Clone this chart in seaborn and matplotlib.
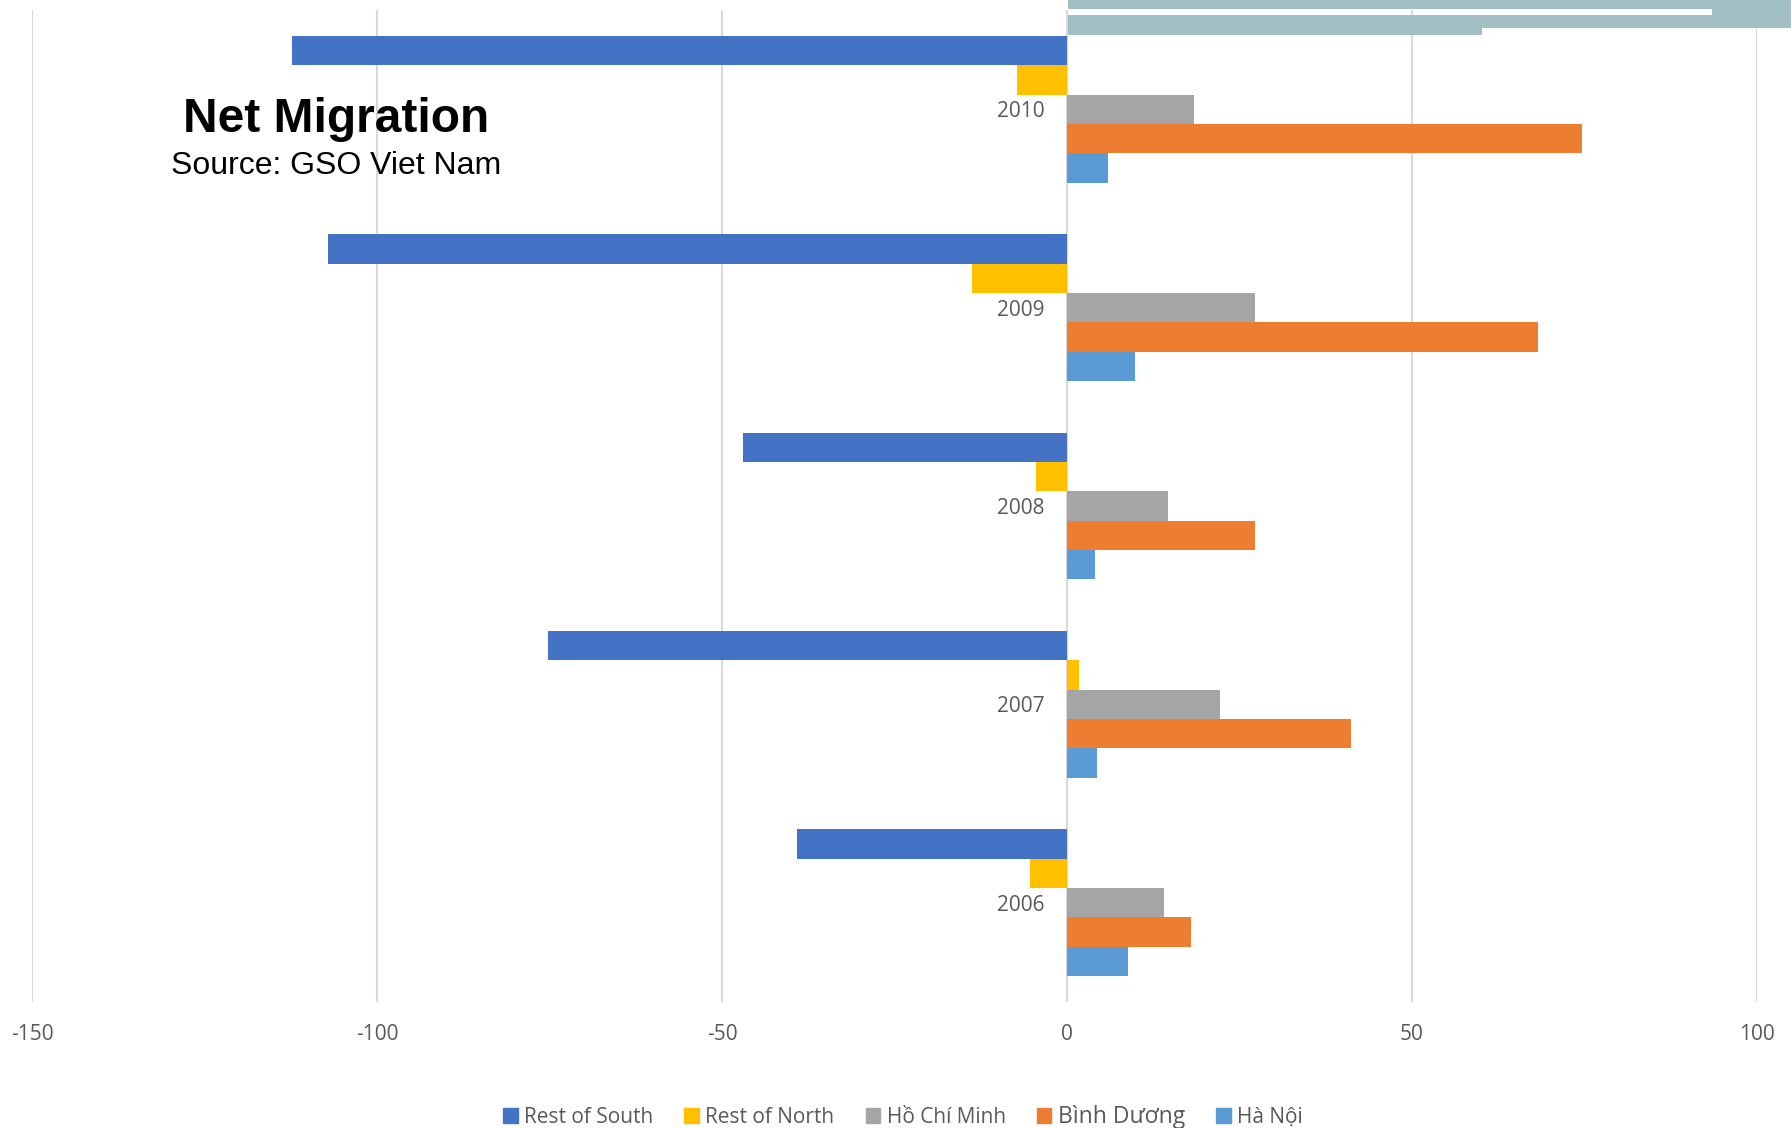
import matplotlib
matplotlib.use("Agg")
import matplotlib.pyplot as plt
import matplotlib.patches as mpatches
import seaborn as sns
import pandas as pd

years = ["2010", "2009", "2008", "2007", "2006"]
series = ["Rest of South", "Rest of North", "Hồ Chí Minh", "Bình Dương", "Hà Nội"]
rest_of_south = [-112.3, -107.1, -46.9, -75.2, -39.2]
rest_of_north = [-7.3, -13.7, -4.5, 1.7, -5.3]
ho_chi_minh = [18.4, 27.2, 14.6, 22.2, 14.1]
binh_duong = [74.7, 68.2, 27.2, 41.2, 18.0]
ha_noi = [6.0, 9.9, 4.0, 4.3, 8.8]
colors = ["#4472C4", "#FFC000", "#A5A5A5", "#ED7D31", "#5B9BD5"]
x_ticks = [-150, -100, -50, 0, 50, 100]

rows = []
for name, vals in zip(series, [rest_of_south, rest_of_north, ho_chi_minh, binh_duong, ha_noi]):
    for y, v in zip(years, vals):
        rows.append({"year": y, "series": name, "value": v})
df = pd.DataFrame(rows)

sns.set_style("white")
plt.rcParams["font.family"] = ["Open Sans", "DejaVu Sans"]

W, H = 1791, 1128
fig = plt.figure(figsize=(W / 100, H / 100), dpi=100)
ax = fig.add_axes([32 / W, 1 - 1002 / H, (1757 - 32) / W, (1002 - 10) / H])

sns.barplot(data=df, y="year", x="value", hue="series", order=years,
            hue_order=series, palette=colors, orient="h", width=0.74,
            saturation=1, ax=ax, legend=False, zorder=3, linewidth=0)

ax.set_xlim(-150, 100)
ax.set_xticks(x_ticks)
ax.set_xticklabels([str(t) for t in x_ticks], color="#595959", fontsize=15)
ax.tick_params(axis="x", length=0, pad=16)
ax.set_yticks([])
ax.set_xlabel("")
ax.set_ylabel("")
ax.xaxis.grid(True, color="#D9D9D9", linewidth=1.5, zorder=0)
ax.set_axisbelow(True)
for s in ax.spines.values():
    s.set_visible(False)

for i, y in enumerate(years):
    ax.text(-3.2, i, y, ha="right", va="center_baseline", color="#595959",
            fontsize=15)

# Title block
fig.text(336 / W, 1 - 119 / H, "Net Migration", ha="center", va="center",
         fontsize=34.5, fontweight="bold", family="Liberation Sans", color="black")
fig.text(336 / W, 1 - 166 / H, "Source: GSO Viet Nam", ha="center", va="center",
         fontsize=23, family="Liberation Sans", color="black")

# Overhanging bars from the next year along the top edge
teal = "#A2BFC3"
def band(x0, x1, y0, y1):
    fig.patches.append(mpatches.Rectangle((x0 / W, 1 - y1 / H), (x1 - x0) / W,
                                          (y1 - y0) / H, transform=fig.transFigure,
                                          facecolor=teal, edgecolor="none", zorder=5))
band(1068, 1791, 0, 9)
band(1712, 1791, 0, 28)
band(1068, 1791, 15, 28)
band(1068, 1482, 15, 35)

# Legend
handles = [mpatches.Patch(color=c, label=s) for s, c in zip(series, colors)]
leg = fig.legend(handles=handles, loc="center", bbox_to_anchor=(903 / W, 1 - 1117 / H),
                 ncol=5, frameon=False, fontsize=15, handlelength=0.7, handleheight=0.7,
                 handletextpad=0.3, columnspacing=1.5, labelcolor="#595959")
leg.get_texts()[3].set_fontsize(16.5)

fig.savefig("out.png", dpi=100)
